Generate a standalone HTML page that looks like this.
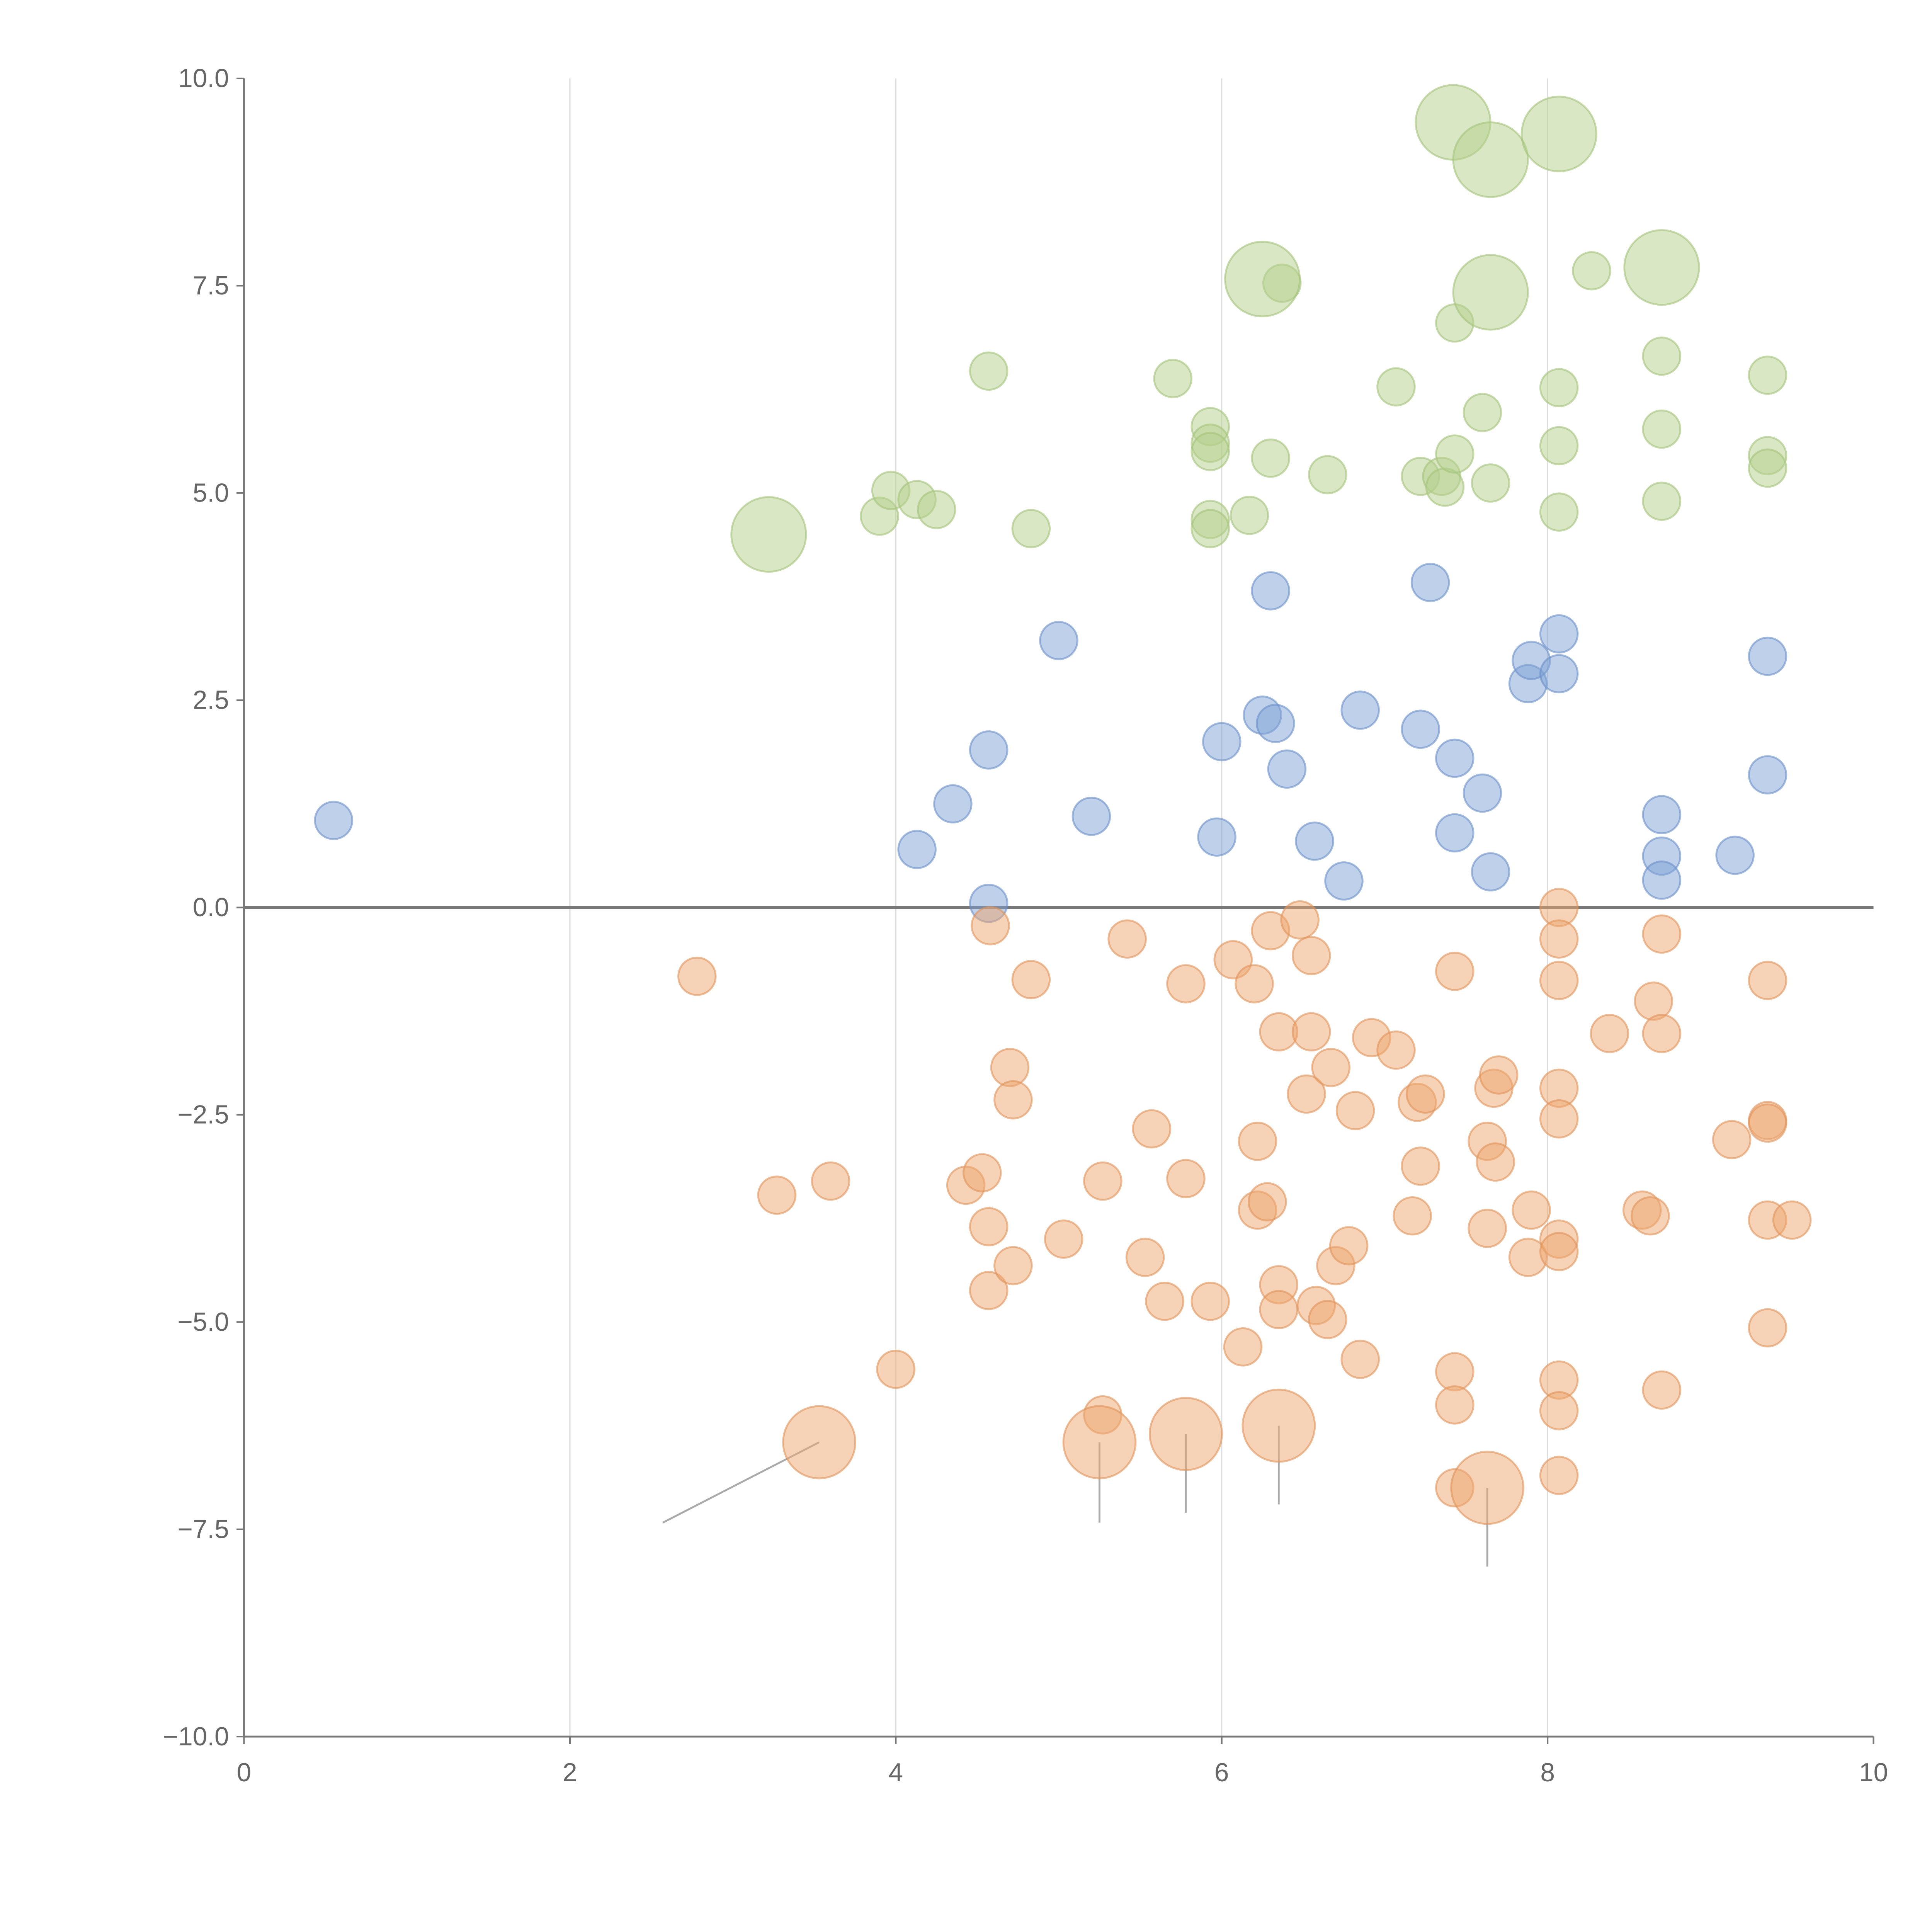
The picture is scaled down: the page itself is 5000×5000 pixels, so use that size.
<!DOCTYPE html>
<html><head><meta charset="utf-8"><title>Bubble chart</title>
<style>html,body{margin:0;padding:0;background:#fff}svg{display:block}text{font-family:"Liberation Sans",sans-serif;fill:#666}</style></head>
<body>
<svg id="chart" width="5000" height="5000" viewBox="0 0 1552 1552" xmlns="http://www.w3.org/2000/svg">
<g id="grid"></g>
<g id="axes"></g>
<g id="leaders"></g>
<g id="marks"></g>
</svg>
<script>
const xTicks=[0,2,4,6,8,10];
const yTicks=[10,7.5,5,2.5,0,-2.5,-5,-7.5,-10];
const blueX=[0.55,4.13,4.35,4.57,4.57,5.0,5.2,5.97,6.0,6.3,6.25,6.33,6.4,6.57,6.75,6.85,7.22,7.28,7.43,7.43,7.6,7.65,7.88,7.9,8.07,8.07,8.7,8.7,8.7,9.15,9.35,9.35];
const blueY=[1.05,0.7,1.25,1.9,0.05,3.22,1.1,0.85,2.0,3.82,2.32,2.22,1.67,0.8,0.32,2.38,2.15,3.92,1.8,0.9,1.38,0.43,2.7,2.98,3.3,2.82,1.12,0.62,0.33,0.63,3.03,1.6];
const greenX=[3.9,3.97,4.13,4.25,4.57,4.83,5.7,5.93,5.93,5.93,5.93,5.93,6.17,6.3,6.37,6.65,7.07,7.22,7.35,7.37,7.43,7.43,7.6,7.65,8.07,8.07,8.07,8.27,8.7,8.7,8.7,9.35,9.35,9.35];
const greenY=[4.72,5.03,4.92,4.8,6.47,4.57,6.38,5.8,5.6,5.5,4.68,4.57,4.73,5.42,7.53,5.22,6.28,5.2,5.2,5.07,5.47,7.05,5.97,5.12,6.27,5.57,4.77,7.68,6.65,5.77,4.9,6.42,5.45,5.3];
const greenBigX=[3.22,6.25,7.42,7.65,7.65,8.07,8.7];
const greenBigY=[4.5,7.58,9.47,9.02,7.42,9.33,7.72];
const orangeX=[2.78,3.27,3.6,4.0,4.43,4.53,4.57,4.57,4.58,4.7,4.72,4.72,4.83,5.03,5.27,5.27,5.42,5.53,5.57,5.65,5.78,5.78,5.93,6.07,6.13,6.2,6.22,6.22,6.28,6.3,6.35,6.35,6.35,6.48,6.52,6.55,6.55,6.58,6.65,6.67,6.7,6.78,6.82,6.85,6.92,7.07,7.17,7.2,7.22,7.25,7.43,7.43,7.43,7.43,7.63,7.63,7.67,7.68,7.7,7.88,7.9,8.07,8.07,8.07,8.07,8.07,8.07,8.07,8.07,8.07,8.07,8.38,8.58,8.63,8.65,8.7,8.7,8.7,9.13,9.35,9.35,9.35,9.35,9.35,9.5];
const orangeY=[-0.83,-3.47,-3.3,-5.57,-3.35,-3.2,-3.85,-4.62,-0.22,-1.93,-2.32,-4.32,-0.87,-4.0,-3.3,-6.12,-0.38,-4.22,-2.67,-4.75,-0.92,-3.27,-4.75,-0.63,-5.3,-0.92,-2.82,-3.65,-3.55,-0.28,-1.5,-4.55,-4.85,-0.15,-2.25,-0.58,-1.5,-4.8,-4.97,-1.93,-4.32,-4.08,-2.45,-5.45,-1.57,-1.72,-3.72,-2.35,-3.12,-2.25,-0.77,-5.6,-6.0,-7.0,-3.87,-2.82,-2.18,-3.07,-2.02,-4.22,-3.65,0.0,-0.38,-0.88,-2.18,-2.55,-4.0,-4.15,-5.7,-6.07,-6.85,-1.52,-3.65,-3.72,-1.13,-0.32,-1.52,-5.82,-2.8,-0.88,-2.57,-2.6,-3.77,-5.07,-3.77];
const orangeBigX=[3.53,5.25,5.78,6.35,7.63];
const orangeBigY=[-6.45,-6.45,-6.35,-6.25,-7.0];
const leaderEndX=[2.57,5.25,5.78,6.35,7.63];
const leaderEndY=[-7.42,-7.42,-7.3,-7.2,-7.95];

const X0=196,X1=1505,Y0=63,Y1=1395;
const sx=v=>X0+(v-0)/(10-0)*(X1-X0);
const sy=v=>Y0+(10-v)/20*(Y1-Y0);
const NS="http://www.w3.org/2000/svg";
function mk(tag,attrs,parent){const e=document.createElementNS(NS,tag);for(const k in attrs)e.setAttribute(k,attrs[k]);parent.appendChild(e);return e;}
const grid=document.getElementById('grid'),axes=document.getElementById('axes'),marks=document.getElementById('marks'),leaders=document.getElementById('leaders');
xTicks.forEach(t=>{
  if(t>0&&t<10){const g=mk('line',{x1:sx(t),x2:sx(t),y1:Y0,y2:Y1,stroke:'#ddd','stroke-width':1},grid);
  
  }
  const tk=mk('line',{x1:sx(t),x2:sx(t),y1:Y1,y2:Y1+6,stroke:'#777','stroke-width':1.3},axes);
  
  
  const tx=mk('text',{x:sx(t),y:Y1+36,'text-anchor':'middle','font-size':21},axes);tx.textContent=t;
  
  
});
yTicks.forEach(t=>{
  const tk=mk('line',{x1:X0-6,x2:X0,y1:sy(t),y2:sy(t),stroke:'#777','stroke-width':1.3},axes);
  
  
  const tx=mk('text',{x:X0-12,y:sy(t)+7,'text-anchor':'end','font-size':21},axes);tx.textContent=t.toFixed(1).replace('-','\u2212');
  
  
});
let a=mk('line',{x1:X0,x2:X0,y1:Y0,y2:Y1,stroke:'#777','stroke-width':1.5},axes);


a=mk('line',{x1:X0,x2:X1,y1:Y1,y2:Y1,stroke:'#777','stroke-width':1.5},axes);


a=mk('line',{x1:X0,x2:X1,y1:sy(0),y2:sy(0),stroke:'#777','stroke-width':2.5},axes);


leaderEndX.forEach((v,i)=>{
  const l=mk('line',{x1:sx(orangeBigX[i]),y1:sy(orangeBigY[i]),x2:sx(v),y2:sy(leaderEndY[i]),stroke:'#aaa','stroke-width':1.5},leaders);
  
  
});
function series(xs,ys,r,fill,stroke,name){
  xs.forEach((v,i)=>{
    const c=mk('circle',{cx:sx(v),cy:sy(ys[i]),r:r,fill:fill,'fill-opacity':0.5,stroke:stroke,'stroke-opacity':0.6,'stroke-width':1.5},marks);
    
    
  });
}
series(blueX,blueY,15,'#7ea1d5','#6a8fc8','blue-bubble');
series(greenX,greenY,15,'#b3d08c','#a3c37a','green-bubble');
series(greenBigX,greenBigY,30,'#b3d08c','#a3c37a','green-big-bubble');
series(orangeX,orangeY,15,'#eea56e','#e0925a','orange-bubble');
series(orangeBigX,orangeBigY,29,'#eea56e','#e0925a','orange-big-bubble');
</script>
</body></html>
